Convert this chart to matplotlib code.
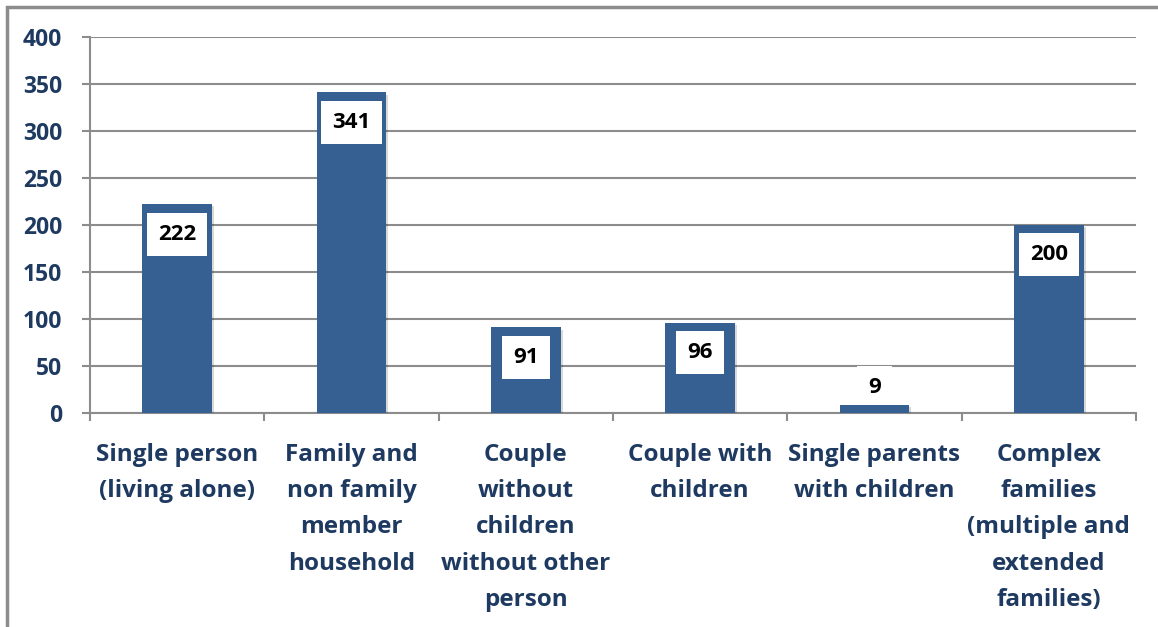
import matplotlib
matplotlib.use("Agg")
import matplotlib.pyplot as plt
from matplotlib.patches import Rectangle
import matplotlib.patheffects as pe

categories = [
    "Single person\n(living alone)",
    "Family and\nnon family\nmember\nhousehold",
    "Couple\nwithout\nchildren\nwithout other\nperson",
    "Couple with\nchildren",
    "Single parents\nwith children",
    "Complex\nfamilies\n(multiple and\nextended\nfamilies)",
]
values = [222, 341, 91, 96, 9, 200]
yticks = [0, 50, 100, 150, 200, 250, 300, 350, 400]

BAR = "#366092"
NAVY = "#1F3A60"
GRID = "#8C8C8C"
FONT = ["Open Sans", "DejaVu Sans"]

W, H = 1158, 627
fig = plt.figure(figsize=(W / 100, H / 100), dpi=100)
ax = fig.add_axes([90 / W, (H - 413) / H, 1046 / W, 376 / H])

x = list(range(len(values)))
bars = ax.bar(x, values, width=0.4, color=BAR, zorder=3)
for b in bars:
    b.set_path_effects([pe.SimplePatchShadow(offset=(1.5, -1.5), shadow_rgbFace="#000000", alpha=0.15), pe.Normal()])

ax.set_xlim(-0.5, len(values) - 0.5)
ax.set_ylim(0, 400)
ax.set_yticks(yticks)
ax.set_yticklabels([str(t) for t in yticks], fontsize=16.5, fontweight="bold", color=NAVY, family=FONT)
ax.set_xticks(x)
ax.set_xticklabels(categories, fontsize=17.5, fontweight="bold", color=NAVY, family=FONT, linespacing=1.68)
ax.set_xticks([i - 0.5 for i in range(len(values) + 1)], minor=True)
ax.tick_params(axis="x", which="major", length=0, pad=21.5)
ax.tick_params(axis="x", which="minor", length=6, width=1.5, color=GRID, direction="out")
ax.tick_params(axis="y", length=6, width=1.5, color=GRID, pad=14)

ax.grid(axis="y", color=GRID, linewidth=1.5, zorder=0)
for s in ["top", "right"]:
    ax.spines[s].set_visible(False)
for s in ["left", "bottom"]:
    ax.spines[s].set_color(GRID)
    ax.spines[s].set_linewidth(1.5)

for xi, v in zip(x, values):
    if v > 30:
        off, z = -21.5, 5
    else:
        off, z = 12, 2.5
    ax.annotate(str(v), xy=(xi, v), xytext=(0, off), textcoords="offset points",
                ha="center", va="center", fontsize=16, fontweight="bold", color="black",
                family=FONT, zorder=z,
                bbox=dict(boxstyle="square,pad=0.5", fc="white", ec="none"))

fig.patches.append(Rectangle((7 / W, -0.1), 2, 1.1 - 6.5 / H, transform=fig.transFigure,
                             fill=False, edgecolor=GRID, linewidth=2.5))

fig.savefig("out.png", dpi=100)
